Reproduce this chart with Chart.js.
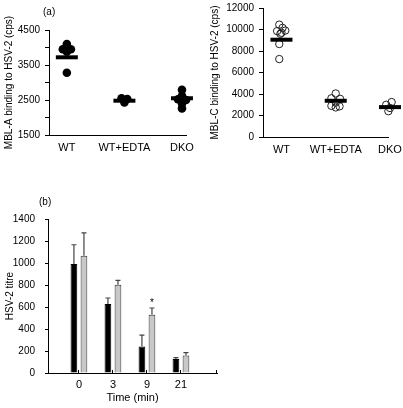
<!DOCTYPE html>
<html>
<head>
<meta charset="utf-8">
<script src="https://cdn.jsdelivr.net/npm/chart.js@4.4.1/dist/chart.umd.min.js"></script>
<style>
  body { margin: 0; background: #fff; width: 403px; height: 408px; overflow: hidden; position: relative;
         font-family: 'Liberation Sans', Arial, sans-serif; }
  .box { position: absolute; }
  .tag { position: absolute; font-size: 10px; color: #000; }
</style>
</head>
<body>
<div class="box" style="left:0;top:0;width:200px;height:165px"><canvas id="chartA"></canvas></div>
<div class="box" style="left:200px;top:0;width:203px;height:165px"><canvas id="chartC"></canvas></div>
<div class="box" style="left:0;top:200px;width:230px;height:208px"><canvas id="chartB"></canvas></div>
<div class="tag" style="left:43px;top:6px">(a)</div>
<div class="tag" style="left:39px;top:196px">(b)</div>

<script>
// ── data ─────────────────────────────────────────
const groups = ['WT', 'WT+EDTA', 'DKO'];

// MBL-A (filled dots), cps
const mblA_WT = [4100, 3950, 3950, 3880, 3280];
const mblA_WTjit = [0, -0.07, 0.07, 0, 0];
const mblA_EDTA = [2550, 2530, 2480, 2430];
const mblA_EDTAjit = [-0.05, 0.05, 0, 0];
const mblA_DKO = [2790, 2620, 2520, 2500, 2400, 2260];
const mblA_DKOjit = [0, 0, -0.07, 0.07, 0, 0];
const mblA_mean = [3720, 2480, 2550];
const mblA_ticks = [1500, 2000, 2500, 3000, 3500, 4000, 4500];
const mblA_labelled = [1500, 2500, 3500, 4500];

// MBL-C (open circles), cps
const mblC_WT = [10450, 10150, 9850, 9900, 9700, 9600, 8650, 7250];
const mblC_WTjit = [-0.04, 0.02, -0.08, 0.07, 0, -0.02, -0.04, -0.04];
const mblC_EDTA = [4050, 3600, 3550, 3200, 2900, 2750, 2850];
const mblC_EDTAjit = [0, -0.08, 0.08, 0, -0.08, 0, 0.07];
const mblC_DKO = [3250, 3000, 2900, 2700, 2400];
const mblC_DKOjit = [0.03, -0.07, 0.08, 0, -0.03];
const mblC_mean = [9050, 3370, 2780];
const mblC_ticks = [0, 2000, 4000, 6000, 8000, 10000, 12000];

// (b) HSV-2 titre over time
const timeLabels = ['0', '3', '9', '21'];
const titreBlack = [990, 627, 242, 127];
const titreBlackErr = [176, 55, 103, 12];
const titreGrey = [1067, 803, 530, 158];
const titreGreyErr = [206, 39, 61, 27];
const greyMarks = ['', '', '*', ''];
const titreTicks = [0, 200, 400, 600, 800, 1000, 1200, 1400];

// ── shared bits ──────────────────────────────────
const FONT = "'Liberation Sans', Arial, sans-serif";
Chart.defaults.font.family = FONT;
Chart.defaults.color = '#000';
Chart.defaults.animation = false;

// pin the plot box to the layout padding (no auto padding for overflowing labels)
const fixY = w => s => { s.width = w; s.paddingTop = 0; s.paddingBottom = 0; };
const fixX = h => s => { s.height = h; s.paddingLeft = 0; s.paddingRight = 0; };

const pts = (vals, jit, gi) => vals.map((v, i) => ({ x: gi + jit[i], y: v }));

function dotSets(sets, style) {
    return sets.map(([vals, jit], gi) => Object.assign({ data: pts(vals, jit, gi), clip: false }, style));
}

function meanSet(means) {
    return {
        data: means.map((v, i) => ({ x: i, y: v })), clip: false,
        pointStyle: 'line', pointRadius: 11, borderWidth: 4,
        borderColor: '#000', backgroundColor: '#000', order: -1
    };
}

function scatterOpts(cfg) {
    return {
        responsive: true, maintainAspectRatio: false,
        layout: { autoPadding: false, padding: { top: cfg.top, left: 0, right: cfg.right, bottom: 0 } },
        plugins: { legend: { display: false }, tooltip: { enabled: false } },
        scales: {
            x: {
                type: 'linear', min: cfg.xmin, max: cfg.xmax,
                afterBuildTicks: s => { s.ticks = [0, 1, 2].map(v => ({ value: v })); },
                afterFit: fixX(cfg.xh),
                grid: { display: false, drawTicks: false }, border: { color: '#000' },
                ticks: { padding: 6, font: { size: 11 }, autoSkip: false, maxRotation: 0, callback: v => groups[v] }
            },
            y: {
                min: cfg.ymin, max: cfg.ymax,
                afterBuildTicks: s => { s.ticks = cfg.yticks.map(v => ({ value: v })); },
                afterFit: fixY(cfg.yw),
                grid: { drawOnChartArea: false, tickLength: 4, color: '#000' },
                border: { color: '#000' },
                ticks: { padding: cfg.tpad, font: { size: 10 }, callback: cfg.ylabel },
                title: { display: true, text: cfg.title, font: { size: 10 }, padding: { top: cfg.titlePad } }
            }
        }
    };
}

// ── MBL-A ────────────────────────────────────────
new Chart(document.getElementById('chartA'), {
    type: 'scatter',
    data: {
        datasets: [meanSet(mblA_mean)].concat(dotSets(
            [[mblA_WT, mblA_WTjit], [mblA_EDTA, mblA_EDTAjit], [mblA_DKO, mblA_DKOjit]],
            { pointRadius: 4.3, pointBackgroundColor: '#000', pointBorderColor: '#000', borderWidth: 0 }))
    },
    options: scatterOpts({
        top: 30, right: 14, xmin: -0.31, xmax: 2.07, xh: 30, ymin: 1500, ymax: 4500, yw: 49, tpad: 5,
        yticks: mblA_ticks, ylabel: v => mblA_labelled.includes(v) ? String(v) : '',
        title: 'MBL-A binding to HSV-2 (cps)', titlePad: 3
    })
});

// ── MBL-C ────────────────────────────────────────
new Chart(document.getElementById('chartC'), {
    type: 'scatter',
    data: {
        datasets: [meanSet(mblC_mean)].concat(dotSets(
            [[mblC_WT, mblC_WTjit], [mblC_EDTA, mblC_EDTAjit], [mblC_DKO, mblC_DKOjit]],
            { pointRadius: 3.7, pointBackgroundColor: 'rgba(0,0,0,0)', pointBorderColor: '#222', pointBorderWidth: 1 }))
    },
    options: scatterOpts({
        top: 8, right: 15, xmin: -0.34, xmax: 1.963, xh: 28, ymin: 0, ymax: 12000, yw: 63, tpad: 5,
        yticks: mblC_ticks, ylabel: v => String(v),
        title: 'MBL-C binding to HSV-2 (cps)', titlePad: 9
    })
});

// ── (b) bars with upper error whiskers ───────────
const errBars = {
    id: 'errBars',
    afterDatasetsDraw(chart) {
        const { ctx, scales: { x, y } } = chart;
        const errs = [titreBlackErr, titreGreyErr];
        ctx.save();
        ctx.strokeStyle = '#444';
        ctx.lineWidth = 1.2;
        chart.data.datasets.forEach((ds, di) => {
            chart.getDatasetMeta(di).data.forEach((bar, i) => {
                const top = y.getPixelForValue(ds.data[i].y + errs[di][i]);
                ctx.beginPath();
                ctx.moveTo(bar.x, bar.y); ctx.lineTo(bar.x, top);
                ctx.moveTo(bar.x - 2.5, top); ctx.lineTo(bar.x + 2.5, top);
                ctx.stroke();
                if (di === 1 && greyMarks[i]) {
                    ctx.fillStyle = '#000';
                    ctx.font = '10px ' + FONT;
                    ctx.textAlign = 'center';
                    ctx.fillText(greyMarks[i], bar.x, top - 2);
                }
            });
        });
        // small inward ticks on the x axis
        ctx.strokeStyle = '#000';
        ctx.lineWidth = 1;
        [0, 1, 2, 3, x.max].forEach(v => {
            const px = Math.round(x.getPixelForValue(v)) - 0.5;
            ctx.beginPath();
            ctx.moveTo(px, y.bottom); ctx.lineTo(px, y.bottom - 3);
            ctx.stroke();
        });
        ctx.restore();
    }
};

new Chart(document.getElementById('chartB'), {
    type: 'bar',
    data: {
        datasets: [
            { data: titreBlack.map((v, i) => ({ x: i, y: v })), backgroundColor: '#000', borderColor: '#000', borderWidth: 1 },
            { data: titreGrey.map((v, i) => ({ x: i, y: v })), backgroundColor: '#c8c8c8', borderColor: '#333', borderWidth: 1 }
        ]
    },
    plugins: [errBars],
    options: {
        responsive: true, maintainAspectRatio: false,
        layout: { autoPadding: false, padding: { top: 19, left: 0, right: 13, bottom: 0 } },
        plugins: { legend: { display: false }, tooltip: { enabled: false } },
        datasets: { bar: { categoryPercentage: 0.59, barPercentage: 0.67 } },
        scales: {
            x: {
                type: 'linear', min: -0.91, max: 4.06, offset: false,
                afterBuildTicks: s => { s.ticks = [0, 1, 2, 3].map(v => ({ value: v })); },
                afterFit: fixX(35),
                grid: { display: false, drawTicks: false }, border: { color: '#000' },
                ticks: { padding: 5, font: { size: 11 }, callback: v => timeLabels[v] },
                title: { display: true, text: 'Time (min)', font: { size: 11 }, padding: { top: 0, bottom: 3 } }
            },
            y: {
                min: 0, max: 1400,
                afterBuildTicks: s => { s.ticks = titreTicks.map(v => ({ value: v })); },
                afterFit: fixY(48),
                grid: { drawOnChartArea: false, tickLength: 3, color: '#000' },
                border: { color: '#000' },
                ticks: { padding: 10, font: { size: 10 }, callback: v => String(v) },
                title: { display: true, text: 'HSV-2 titre', font: { size: 10 }, padding: { top: 4 } }
            }
        }
    }
});
</script>
</body>
</html>
